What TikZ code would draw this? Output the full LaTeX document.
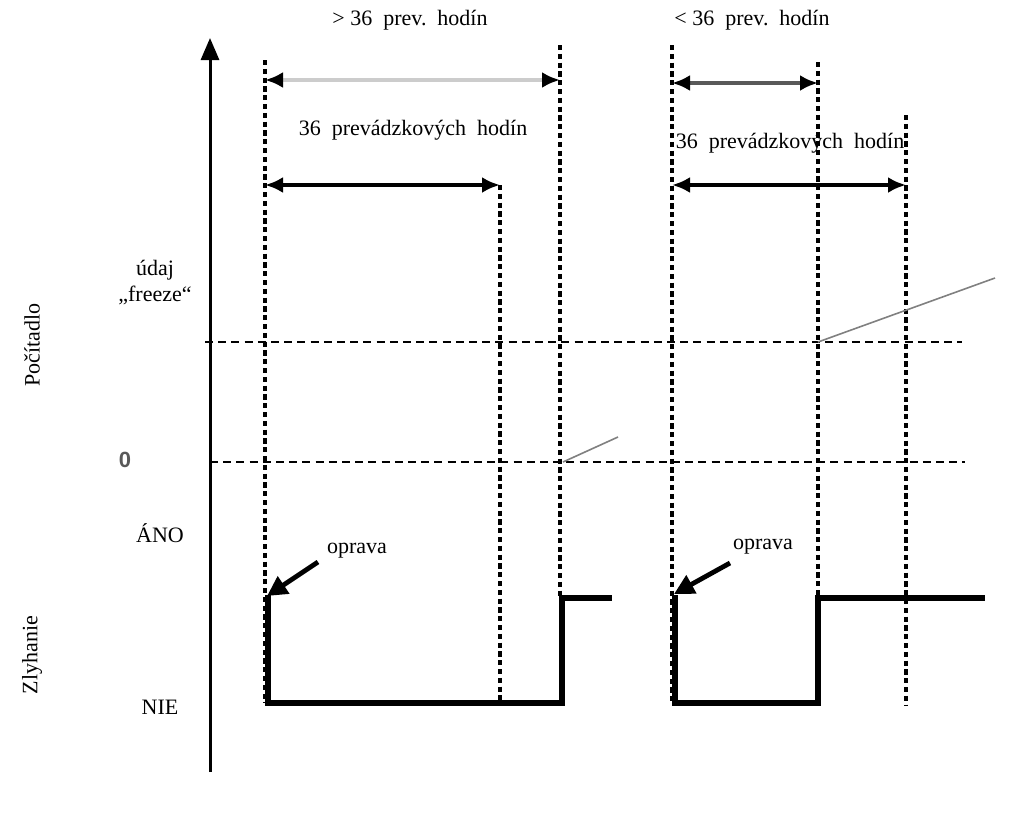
\documentclass[tikz,border=0pt]{standalone}
\usepackage{fontspec}
\setmainfont{Liberation Serif}
\setsansfont{Liberation Sans}
\usetikzlibrary{arrows.meta, positioning}
\newcommand{\gap}{\hspace{5.5pt}}
\tikzset{
  guide/.style={black, line width=1.7pt, dash pattern=on 2.6pt off 1.8pt},
  level/.style={black, line width=1.3pt, dash pattern=on 4pt off 2.6pt},
  axis/.style={black, line width=1.5pt, -{Triangle[length=11pt,width=9pt]}},
  span/.style={line width=2pt, {Latex[length=9pt,width=8pt,color=black]}-{Latex[length=9pt,width=8pt,color=black]}},
  signal/.style={black, line width=2.6pt, line join=miter},
  rise/.style={gray, line width=0.8pt},
  fix/.style={black, line width=2.4pt, -{Triangle[length=10pt,width=10pt]}},
  lbl/.style={font=\fontsize{11}{13}\selectfont, inner sep=1pt},
}
\begin{document}
\begin{tikzpicture}[x=0.5pt,y=-0.5pt]
  \useasboundingbox (0,0) rectangle (1012,814);
  % time marks
  \foreach \x/\ya/\yb in {265/60/703, 500/185/703, 560/45/598, 672/45/703, 818/62/598, 906/115/705} {
    \draw[guide] (\x,\ya) -- (\x,\yb);
  }
  % counter levels
  \draw[level] (205,342) -- (962,342);
  \draw[level] (210,462) -- (965,462);
  \draw[axis] (210,772) -- (210,38);

  % spans
  \coordinate (p1) at (265,80);  \coordinate (p2) at (560,80);
  \coordinate (p3) at (265,185); \coordinate (p4) at (500,185);
  \coordinate (q1) at (672,83);  \coordinate (q2) at (818,83);
  \coordinate (q3) at (672,185); \coordinate (q4) at (906,185);
  \draw[span, draw=black!20] (p1) -- (p2);
  \draw[span] (p3) -- (p4);
  \draw[span, draw=black!65] (q1) -- (q2);
  \draw[span] (q3) -- (q4);

  % counter values
  \draw[rise] (563,462) -- (618,437);
  \draw[rise] (818,342) -- (995,278);

  % failure signal
  \draw[signal] (268,595) -- (268,703) -- (562,703) -- (562,598) -- (612,598);
  \draw[signal] (675,595) -- (675,703) -- (818,703) -- (818,598) -- (985,598);

  % labels
  \node[lbl] (moreT) at (410,20) {> 36\gap prev.\gap hodín};
  \node[lbl] (lessT) at (752,20) {< 36\gap prev.\gap hodín};
  \node[lbl] (spanL) at (413,130) {36\gap prevádzkových\gap hodín};
  \node[lbl] (spanR) at (790,143) {36\gap prevádzkových\gap hodín};
  \node[lbl, align=center] (freeze) at (155,283) {údaj\\„freeze“};
  \node[lbl, rotate=90] (countL) at (32,345) {Počítadlo};
  \node[lbl, font=\sffamily\bfseries\fontsize{11}{13}\selectfont, text=black!65] (zero) at (125,460) {0};
  \node[lbl] (yes) at (160,533) {ÁNO};
  \node[lbl, rotate=90] (failL) at (32,655) {Zlyhanie};
  \node[lbl] (no) at (160,707) {NIE};
  \node[lbl] (fixL) at (357,551) {oprava};
  \node[lbl] (fixR) at (763,547) {oprava};
  \coordinate (fl) at (318,562); \coordinate (fr) at (730,563);
  \draw[fix] (fl) -- (267,596);
  \draw[fix] (fr) -- (674,594);
\end{tikzpicture}
\end{document}
